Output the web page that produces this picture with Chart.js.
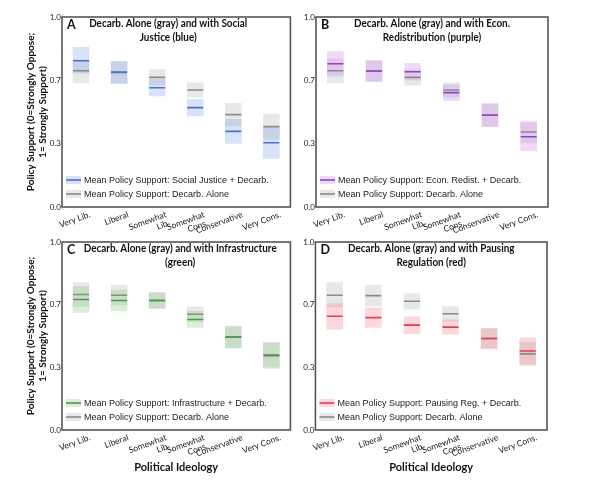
<!DOCTYPE html>
<html>
<head>
<meta charset="utf-8">
<script src="https://cdn.jsdelivr.net/npm/chart.js@4.4.1/dist/chart.umd.min.js"></script>
<style>
  html, body { margin:0; padding:0; background:#fff; }
  body { width:600px; height:486px; position:relative; overflow:hidden; }
  .p { position:absolute; }
</style>
</head>
<body>
<div class="p" id="wA" style="left:0;top:0;width:300px;height:240px"><canvas id="cA"></canvas></div>
<div class="p" id="wB" style="left:300px;top:0;width:300px;height:240px"><canvas id="cB"></canvas></div>
<div class="p" id="wC" style="left:0;top:232px;width:300px;height:254px"><canvas id="cC"></canvas></div>
<div class="p" id="wD" style="left:300px;top:232px;width:300px;height:254px"><canvas id="cD"></canvas></div>
<script>
// ---------------- data ----------------
const categories = [["Very Lib."], "Liberal", ["Somewhat", "Lib."], ["Somewhat", "Cons."], "Conservative", "Very Cons."];
const yTickValues = [0, 1/3, 2/3, 1];
const yTickLabels = ["0.0", "0.3", "0.7", "1.0"];

// Panel A: Social Justice
const aloneMeanA = [0.717, 0.712, 0.682, 0.616, 0.486, 0.423];
const aloneLowA  = [0.654, 0.651, 0.641, 0.578, 0.426, 0.357];
const aloneHighA = [0.774, 0.765, 0.723, 0.654, 0.546, 0.489];
const sjMean = [0.770, 0.708, 0.628, 0.523, 0.398, 0.338];
const sjLow  = [0.704, 0.651, 0.584, 0.479, 0.335, 0.256];
const sjHigh = [0.841, 0.765, 0.672, 0.567, 0.461, 0.420];

// Panel B: Econ. Redistribution
const aloneMeanB = [0.717, 0.716, 0.682, 0.616, 0.484, 0.395];
const aloneLowB  = [0.654, 0.661, 0.641, 0.578, 0.424, 0.337];
const aloneHighB = [0.780, 0.770, 0.723, 0.654, 0.544, 0.453];
const erMean = [0.754, 0.716, 0.712, 0.602, 0.483, 0.370];
const erLow  = [0.690, 0.661, 0.668, 0.560, 0.423, 0.296];
const erHigh = [0.818, 0.770, 0.756, 0.644, 0.543, 0.444];

// Panel C: Infrastructure
const aloneMeanC = [0.721, 0.717, 0.690, 0.616, 0.494, 0.400];
const aloneLowC  = [0.658, 0.664, 0.648, 0.577, 0.437, 0.334];
const aloneHighC = [0.784, 0.770, 0.731, 0.655, 0.551, 0.466];
const infMean = [0.694, 0.689, 0.688, 0.588, 0.494, 0.395];
const infLow  = [0.625, 0.634, 0.646, 0.545, 0.437, 0.328];
const infHigh = [0.763, 0.744, 0.729, 0.631, 0.550, 0.462];

// Panel D: Pausing Regulation
const aloneMeanD = [0.717, 0.715, 0.685, 0.618, 0.487, 0.405];
const aloneLowD  = [0.655, 0.660, 0.643, 0.579, 0.434, 0.342];
const aloneHighD = [0.784, 0.770, 0.726, 0.657, 0.540, 0.468];
const prMean = [0.605, 0.598, 0.558, 0.547, 0.487, 0.420];
const prLow  = [0.536, 0.545, 0.512, 0.508, 0.434, 0.350];
const prHigh = [0.673, 0.650, 0.602, 0.586, 0.540, 0.490];

// ---------------- styling ----------------
const GRAY_BAND = 'rgba(120,120,120,0.17)';
const GRAY_LINE = '#8a8a8a';
const TXT = '#222';
const CAL = 'Lato, "Open Sans", sans-serif';
const ARIAL = '"Liberation Sans", Arial, sans-serif';

const panelBox = {
  id: 'panelBox',
  afterDraw(chart, args, o) {
    const {ctx, chartArea: a} = chart;
    ctx.save();
    ctx.strokeStyle = '#555';
    ctx.lineWidth = 1.6;
    ctx.strokeRect(a.left, a.top, a.right - a.left, a.bottom - a.top);
    ctx.fillStyle = '#111';
    ctx.textBaseline = 'middle';
    ctx.textAlign = 'left';
    ctx.font = 'bold 12.5px ' + CAL;
    ctx.fillText(o.letter, a.left + 5, a.top + 8);
    // title (slightly condensed, Calibri-like proportions)
    ctx.font = 'bold 11px ' + CAL;
    ctx.textAlign = 'center';
    const cx = (a.left + a.right) / 2 + (o.titleDx || 0);
    const sx = 0.9;
    o.title.forEach((t, i) => {
      ctx.save();
      ctx.translate(cx, a.top + 6 + i * 14.5);
      ctx.scale(sx, 1);
      ctx.fillText(t, 0, 0);
      ctx.restore();
    });
    ctx.font = '9px ' + ARIAL;
    ctx.textAlign = 'left';
    o.legend.forEach((it, i) => {
      const y = a.bottom - 27 + i * 14;
      const x = a.left + 4;
      ctx.fillStyle = it.band;
      ctx.fillRect(x, y - 4, 15, 8);
      ctx.strokeStyle = it.line;
      ctx.lineWidth = 1.6;
      ctx.beginPath(); ctx.moveTo(x, y); ctx.lineTo(x + 15, y); ctx.stroke();
      ctx.fillStyle = '#222';
      ctx.fillText(it.label, x + 18, y + 0.5);
    });
    ctx.restore();
  }
};

function makePanel(id, cfg) {
  const datasets = [
    { type: 'bar', label: 'CI alone', data: cfg.aloneLow.map((v, i) => [v, cfg.aloneHigh[i]]),
      backgroundColor: GRAY_BAND, grouped: false, barThickness: 16, borderWidth: 0, order: 3 },
    { type: 'bar', label: 'CI combo', data: cfg.low.map((v, i) => [v, cfg.high[i]]),
      backgroundColor: cfg.band, grouped: false, barThickness: 16, borderWidth: 0, order: 2 },
    { type: 'line', label: 'Mean Policy Support: Decarb. Alone', data: cfg.aloneMean, showLine: false,
      pointStyle: 'line', pointRadius: 8, pointBorderWidth: 1.6, borderColor: GRAY_LINE, pointBorderColor: GRAY_LINE, order: 1 },
    { type: 'line', label: cfg.label, data: cfg.mean, showLine: false,
      pointStyle: 'line', pointRadius: 8, pointBorderWidth: 1.6, borderColor: cfg.line, pointBorderColor: cfg.line, order: 0 }
  ];
  return new Chart(document.getElementById(id), {
    data: { labels: categories, datasets },
    options: {
      responsive: true, maintainAspectRatio: false, animation: false, events: [],
      layout: { padding: cfg.padding },
      plugins: {
        legend: { display: false }, tooltip: { enabled: false },
        panelBox: { letter: cfg.letter, title: cfg.title, titleDx: cfg.titleDx,
          legend: [ { band: cfg.band, line: cfg.line, label: cfg.label },
                    { band: GRAY_BAND, line: GRAY_LINE, label: 'Mean Policy Support: Decarb. Alone' } ] }
      },
      scales: {
        x: {
          type: 'category', offset: true,
          grid: { display: false, drawTicks: false }, border: { display: false },
          ticks: { minRotation: 20, maxRotation: 20, autoSkip: false, labelOffset: 9, padding: 3,
                   font: { family: CAL, size: 8.5, lineHeight: 1.05 }, color: TXT },
          title: { display: cfg.xTitle, text: 'Political Ideology', color: '#111',
                   font: { family: CAL, size: 11, weight: 'bold' }, padding: { top: 0, bottom: 12 } },
          afterFit(s) { s.height = cfg.xH; }
        },
        y: {
          type: 'linear', min: 0, max: 1,
          grid: { display: false, drawTicks: false }, border: { display: false },
          afterBuildTicks(s) { s.ticks = yTickValues.map(v => ({ value: v })); },
          ticks: { callback: (v) => yTickLabels[yTickValues.findIndex(t => Math.abs(t - v) < 1e-6)],
                   font: { family: CAL, size: 8 }, color: TXT, padding: 1 },
          title: { display: cfg.yTitle, text: ['Policy Support (0=Strongly Oppose;', '1= Strongly Support)'],
                   color: '#111', font: { family: CAL, size: 10, weight: 'bold', lineHeight: 1.2 }, padding: { top: 25, bottom: 0 } },
          afterFit(s) { s.width = cfg.yW; }
        }
      }
    },
    plugins: [panelBox]
  });
}

makePanel('cA', { letter: 'A', title: ['Decarb. Alone (gray) and with Social', 'Justice (blue)'], titleDx: -8,
  aloneMean: aloneMeanA, aloneLow: aloneLowA, aloneHigh: aloneHighA, mean: sjMean, low: sjLow, high: sjHigh,
  band: 'rgba(100,140,235,0.25)', line: '#4b72c9', label: 'Mean Policy Support: Social Justice + Decarb.',
  padding: { top: 17, right: 5, left: 0, bottom: 0 }, yW: 62, xH: 33, yTitle: true, xTitle: false });

makePanel('cB', { letter: 'B', title: ['Decarb. Alone (gray) and with Econ.', 'Redistribution (purple)'],
  aloneMean: aloneMeanB, aloneLow: aloneLowB, aloneHigh: aloneHighB, mean: erMean, low: erLow, high: erHigh,
  band: 'rgba(200,120,240,0.28)', line: '#8d45c8', label: 'Mean Policy Support: Econ. Redist. + Decarb.',
  padding: { top: 17, right: 52, left: 0, bottom: 0 }, yW: 16, xH: 33, yTitle: false, xTitle: false });

makePanel('cC', { letter: 'C', title: ['Decarb. Alone (gray) and with Infrastructure', '(green)'], titleDx: 4,
  aloneMean: aloneMeanC, aloneLow: aloneLowC, aloneHigh: aloneHighC, mean: infMean, low: infLow, high: infHigh,
  band: 'rgba(110,190,100,0.25)', line: '#4a9a4a', label: 'Mean Policy Support: Infrastructure + Decarb.',
  padding: { top: 10, right: 6, left: 0, bottom: 0 }, yW: 62, xH: 56, yTitle: true, xTitle: true });

makePanel('cD', { letter: 'D', title: ['Decarb. Alone (gray) and with Pausing', 'Regulation (red)'],
  aloneMean: aloneMeanD, aloneLow: aloneLowD, aloneHigh: aloneHighD, mean: prMean, low: prLow, high: prHigh,
  band: 'rgba(250,110,130,0.28)', line: '#e0404f', label: 'Mean Policy Support: Pausing Reg. + Decarb.',
  padding: { top: 10, right: 53, left: 0, bottom: 0 }, yW: 15, xH: 56, yTitle: false, xTitle: true });
</script>
</body>
</html>
